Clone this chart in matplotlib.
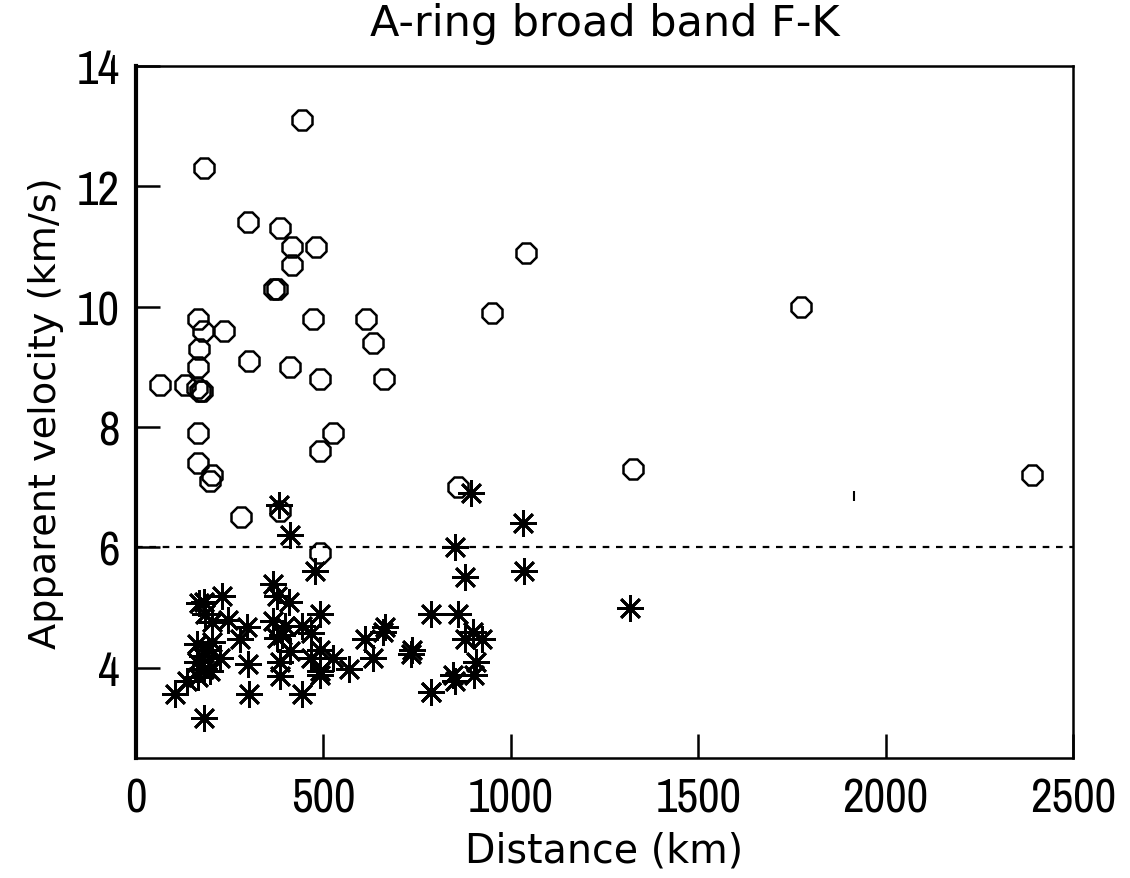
import matplotlib
matplotlib.use("Agg")
import matplotlib.pyplot as plt
from matplotlib import font_manager

# Open octagons: apparent velocity of first arrivals
circle_dist = [444, 181, 300, 385, 415, 480, 415, 1040, 368, 376,
               165, 235, 179, 473, 613, 950, 1775, 169, 301, 166,
               411, 633, 64, 131, 162, 170, 175, 491, 661, 164,
               526, 492, 166, 202, 197, 280, 384, 858, 1325, 2390, 492]
circle_vel = [13.1, 12.3, 11.4, 11.3, 11.0, 11.0, 10.7, 10.9, 10.3, 10.3,
              9.8, 9.6, 9.6, 9.8, 9.8, 9.9, 10.0, 9.3, 9.1, 9.0,
              9.0, 9.4, 8.7, 8.7, 8.65, 8.6, 8.6, 8.8, 8.8, 7.9,
              7.9, 7.6, 7.4, 7.2, 7.1, 6.5, 6.6, 7.0, 7.3, 7.2, 5.9]

# Asterisks: apparent velocity of later arrivals
star_dist = [382, 411, 895, 851, 1033, 1036, 877, 477, 1318,
             366, 375, 409, 169, 180, 229, 184, 202, 244, 295, 277,
             491, 366, 397, 442, 468, 375, 389, 411,
             162, 202, 224, 175, 162, 180, 197, 166, 135, 104, 181, 193,
             300, 302, 384, 384, 442, 468, 491, 491, 491, 526, 569,
             611, 633, 660, 665, 733, 735,
             787, 787, 860, 899, 877, 924, 908, 901, 846, 851, 787]
star_vel = [6.7, 6.2, 6.9, 6.0, 6.4, 5.6, 5.5, 5.6, 5.0,
            5.4, 5.2, 5.1, 5.07, 5.1, 5.2, 4.9, 4.76, 4.8, 4.67, 4.47,
            4.9, 4.78, 4.7, 4.7, 4.57, 4.5, 4.55, 4.28,
            4.4, 4.42, 4.17, 4.2, 4.1, 3.98, 3.95, 3.84, 3.78, 3.57, 3.17, 4.3,
            4.07, 3.57, 4.09, 3.87, 3.57, 4.17, 4.3, 3.95, 3.88, 4.17, 3.98,
            4.48, 4.17, 4.6, 4.68, 4.23, 4.3,
            4.9, 3.6, 4.9, 4.6, 4.48, 4.48, 4.09, 3.88, 3.88, 3.78, 3.6]

# small stray mark in the original
stray_dist = [1915]
stray_vel = [6.85]

threshold_vel = 6.0
x_ticks = [0, 500, 1000, 1500, 2000, 2500]
y_ticks = [4, 6, 8, 10, 12, 14]


def _is_regular(f):
    return f.style == 'normal' and f.weight in (400, 'normal', 'regular')


# pick an upright narrow sans face if one is installed (original digits are tall and narrow)
narrow = None
for f in font_manager.fontManager.ttflist:
    nm = f.name
    if ('Narrow' in nm or 'Condensed' in nm) and 'Mono' not in nm and 'Serif' not in nm \
            and _is_regular(f):
        narrow = font_manager.FontProperties(fname=f.fname)
        break
if narrow is None:
    for f in font_manager.fontManager.ttflist:
        st = str(f.stretch)
        if st in ('condensed', 'semi-condensed') and 'Mono' not in f.name \
                and 'Serif' not in f.name and _is_regular(f):
            narrow = font_manager.FontProperties(fname=f.fname)
            break

if narrow is not None:
    tick_fp = narrow
    tick_size = 34
else:
    tick_fp = font_manager.FontProperties(family='DejaVu Sans')
    tick_size = 27

label_fp = font_manager.FontProperties(family='DejaVu Sans')

fig = plt.figure(figsize=(11.30, 8.79), dpi=100)
ax = fig.add_axes([0.1204, 0.1365, 0.8292, 0.7873])

ax.plot(circle_dist, circle_vel, linestyle='none', marker='8', markersize=16,
        markerfacecolor='none', markeredgecolor='black', markeredgewidth=1.8)
ax.plot(star_dist, star_vel, linestyle='none', marker=(8, 2, 0), markersize=19,
        color='black', markeredgewidth=2.0)
ax.plot(stray_dist, stray_vel, linestyle='none', marker='|', markersize=7,
        color='black', markeredgewidth=1.5)
ax.axhline(threshold_vel, color='black', linewidth=1.6, linestyle=(0, (3, 3)))

ax.set_xlim(0, 2500)
ax.set_ylim(2.5, 14)
ax.set_xticks(x_ticks)
ax.set_yticks(y_ticks)
ax.tick_params(direction='in', length=17, width=1.8, pad=13)
ax.tick_params(axis='y', pad=12)
for lab in ax.get_xticklabels() + ax.get_yticklabels():
    lab.set_fontproperties(tick_fp)
    lab.set_fontsize(tick_size)
ax.spines['left'].set_linewidth(3.0)
for s in ['top', 'bottom', 'right']:
    ax.spines[s].set_linewidth(1.8)

ax.set_title('A-ring broad band F-K', fontproperties=label_fp, fontsize=31, pad=22)
ax.set_xlabel('Distance (km)', fontproperties=label_fp, fontsize=28.5, labelpad=8)
ax.set_ylabel('Apparent velocity (km/s)', fontproperties=label_fp, fontsize=27.5, labelpad=9)

fig.savefig('out.png', dpi=100)
